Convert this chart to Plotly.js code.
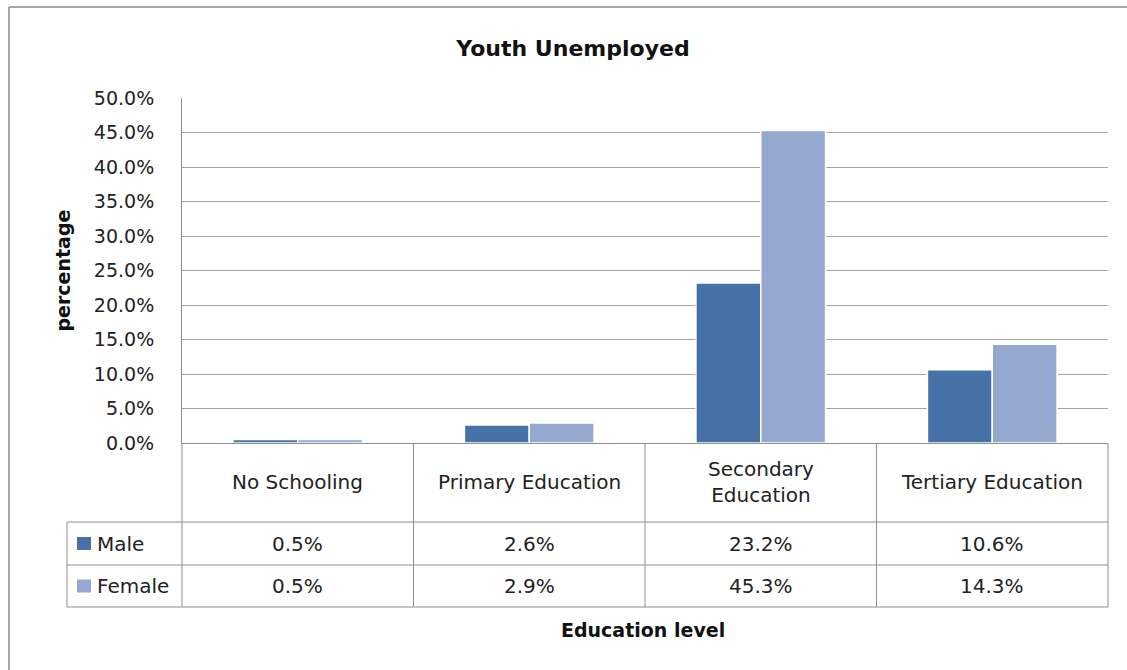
<!DOCTYPE html>
<html>
<head>
<meta charset="utf-8">
<script src="https://cdn.plot.ly/plotly-3.0.1.min.js"></script>
<style>html,body{margin:0;padding:0;background:#fff;}#chart{width:1127px;height:670px;}</style>
</head>
<body>
<div id="chart"></div>
<script>
// ---- data ----
var categories = ['No Schooling', 'Primary Education', 'Secondary Education', 'Tertiary Education'];
var tableHeaders = ['No Schooling', 'Primary Education', 'Secondary<br>Education', 'Tertiary Education'];
var seriesNames = ['Male', 'Female'];
var maleValues = [0.5, 2.6, 23.2, 10.6];
var femaleValues = [0.5, 2.9, 45.3, 14.3];
var yTickValues = [0, 5, 10, 15, 20, 25, 30, 35, 40, 45, 50];
var yTickLabels = ['0.0%', '5.0%', '10.0%', '15.0%', '20.0%', '25.0%', '30.0%', '35.0%', '40.0%', '45.0%', '50.0%'];

// ---- styles ----
var FONT = 'DejaVu Sans';
var maleColor = '#4672A8';
var femaleColor = '#95A9D0';
var lineColor = '#8e8e8e';
var textColor = '#222222';

var W = 1127, H = 670;
var mL = 182, mR = 19, mT = 98, mB = 227;
var plotW = W - mL - mR, plotH = H - mT - mB;
function px2paperX(px) { return (px - mL) / plotW; }
function px2paperY(py) { return (H - mB - py) / plotH; }

var traces = [
  {type: 'bar', name: seriesNames[0], x: categories, y: maleValues,
   marker: {color: maleColor, line: {color: '#ffffff', width: 1.5}}, hoverinfo: 'skip'},
  {type: 'bar', name: seriesNames[1], x: categories, y: femaleValues,
   marker: {color: femaleColor, line: {color: '#ffffff', width: 1.5}}, hoverinfo: 'skip'}
];

var shapes = [];
var annotations = [];
function hline(x0, x1, y) {
  shapes.push({type: 'line', xref: 'paper', yref: 'paper', x0: x0, x1: x1, y0: y, y1: y,
               line: {color: lineColor, width: 1}});
}
function vline(x, y0, y1) {
  shapes.push({type: 'line', xref: 'paper', yref: 'paper', x0: x, x1: x, y0: y0, y1: y1,
               line: {color: lineColor, width: 1}});
}

// outer frame (top and left)
shapes.push({type: 'line', xref: 'paper', yref: 'paper', x0: px2paperX(9), x1: px2paperX(1127),
             y0: px2paperY(7), y1: px2paperY(7), line: {color: '#8a8a8a', width: 1.5}});
shapes.push({type: 'line', xref: 'paper', yref: 'paper', x0: px2paperX(9), x1: px2paperX(9),
             y0: px2paperY(7), y1: px2paperY(670), line: {color: '#8a8a8a', width: 1.5}});

// data table
var nCat = categories.length;
var yHeaderBottom = px2paperY(522);
var yRow1Bottom = px2paperY(565);
var yRow2Bottom = px2paperY(607);
var xLegendLeft = px2paperX(67);
hline(xLegendLeft, 1, yHeaderBottom);
hline(xLegendLeft, 1, yRow1Bottom);
hline(xLegendLeft, 1, yRow2Bottom);
for (var k = 0; k <= nCat; k++) { vline(k / nCat, 0, yRow2Bottom); }
vline(xLegendLeft, yHeaderBottom, yRow2Bottom);

var yHeader = px2paperY(482);
var yRows = [px2paperY(543.5), px2paperY(586)];
var seriesValues = [maleValues, femaleValues];
var seriesColors = [maleColor, femaleColor];
var TABLE_SIZE = 20;

for (var i = 0; i < nCat; i++) {
  annotations.push({xref: 'x', yref: 'paper', x: categories[i], y: yHeader,
    text: tableHeaders[i], showarrow: false, xanchor: 'center', yanchor: 'middle',
    font: {family: FONT, size: TABLE_SIZE, color: textColor}});
  for (var s = 0; s < seriesValues.length; s++) {
    annotations.push({xref: 'x', yref: 'paper', x: categories[i], y: yRows[s],
      text: seriesValues[s][i].toFixed(1) + '%', showarrow: false, xanchor: 'center', yanchor: 'middle',
      font: {family: FONT, size: TABLE_SIZE, color: textColor}});
  }
}
for (var s2 = 0; s2 < seriesNames.length; s2++) {
  var yc = yRows[s2];
  var half = 6.5 / plotH;
  shapes.push({type: 'rect', xref: 'paper', yref: 'paper', x0: px2paperX(77), x1: px2paperX(91),
               y0: yc - half, y1: yc + half, fillcolor: seriesColors[s2], line: {width: 0}});
  annotations.push({xref: 'paper', yref: 'paper', x: px2paperX(95), y: yc,
    text: seriesNames[s2], showarrow: false, xanchor: 'left', yanchor: 'middle',
    font: {family: FONT, size: TABLE_SIZE, color: textColor}});
}

// axis titles
annotations.push({xref: 'paper', yref: 'paper', x: px2paperX(62), y: 0.5, textangle: -90,
  text: '<b>percentage</b>', showarrow: false, xanchor: 'center', yanchor: 'middle',
  font: {family: FONT, size: 19, color: '#111'}});
annotations.push({xref: 'paper', yref: 'paper', x: px2paperX(643), y: px2paperY(630),
  text: '<b>Education level</b>', showarrow: false, xanchor: 'center', yanchor: 'middle',
  font: {family: FONT, size: 19, color: '#111'}});

var layout = {
  width: W, height: H,
  margin: {l: mL, r: mR, t: mT, b: mB, pad: 0},
  paper_bgcolor: '#ffffff', plot_bgcolor: '#ffffff',
  showlegend: false,
  barmode: 'group', bargap: 0.44, bargroupgap: 0,
  title: {text: '<b>Youth Unemployed</b>', xref: 'container', x: 573 / W, xanchor: 'center',
          yref: 'container', y: 1 - 48 / H, yanchor: 'middle',
          font: {family: FONT, size: 22, color: '#111'}},
  xaxis: {type: 'category', range: [-0.5, nCat - 0.5], showticklabels: false, ticks: '',
          showgrid: false, zeroline: false, showline: true, linecolor: lineColor, linewidth: 1,
          fixedrange: true},
  yaxis: {range: [0, 50], tickmode: 'array', tickvals: yTickValues, ticktext: yTickLabels,
          showgrid: true, gridcolor: '#a4a4a4', gridwidth: 1, zeroline: false,
          showline: true, linecolor: lineColor, linewidth: 1,
          ticks: 'outside', ticklen: 23, tickcolor: 'rgba(0,0,0,0)',
          tickfont: {family: FONT, size: 19, color: textColor}, fixedrange: true},
  shapes: shapes,
  annotations: annotations
};

Plotly.newPlot('chart', traces, layout, {displayModeBar: false, staticPlot: true});
</script>
</body>
</html>
